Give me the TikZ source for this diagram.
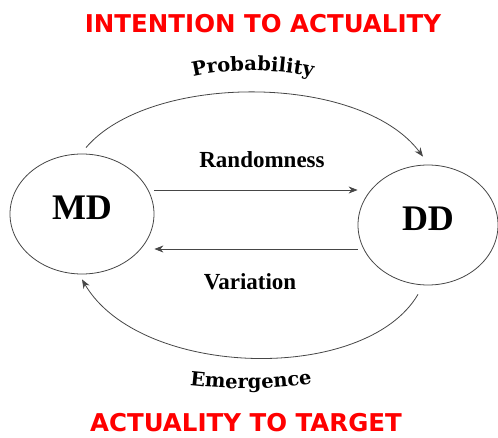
\documentclass[tikz,border=0pt]{standalone}
\usepackage{fontspec}
\usepackage{tikz}
\usetikzlibrary{shapes.geometric, arrows.meta, decorations.text}
\newfontfamily\titlefont{DejaVu Sans}
\newfontfamily\stateserif{Liberation Serif}
\newfontfamily\curvefont{DejaVu Serif}
\definecolor{titlered}{RGB}{255,0,0}
\definecolor{linegray}{RGB}{70,70,70}

\begin{document}
\begin{tikzpicture}[
    x=1pt, y=1pt,
    state/.style={ellipse, draw=linegray, line width=0.8pt, fill=white, inner sep=0pt,
                  minimum width=144pt, minimum height=120pt,
                  font=\stateserif\bfseries\fontsize{36}{36}\selectfont,
                  text height=23pt, text depth=12pt},
    title/.style={font=\titlefont\bfseries\fontsize{24.5}{24.5}\selectfont, text=titlered,
                  inner sep=1pt},
    flowlabel/.style={font=\stateserif\bfseries\fontsize{23}{23}\selectfont},
    arrow/.style={-{Stealth[length=9pt, width=7pt]}, draw=linegray, line width=0.8pt}
]
\useasboundingbox (0,0) rectangle (498,437);

\node[title] (top) at (263,413) {INTENTION TO ACTUALITY};
\node[title] (bottom) at (246,14) {ACTUALITY TO TARGET};

\node[state] (md) at (82,223) {MD};
\node[state, minimum width=140pt] (dd) at (428,212) {DD};

% straight flows
\draw[arrow] ([yshift=24pt]md.east) -- ([yshift=35pt]dd.west);
\draw[arrow] ([yshift=-24pt]dd.west) -- ([yshift=-35pt]md.east);
\node[flowlabel] (rand) at (262,277) {Randomness};
\node[flowlabel] (var) at (250,155) {Variation};

% outer arcs
\draw[arrow] ([shift={(4pt,6pt)}]md.north) .. controls +(64,75) and +(-63,84) .. ([shift={(-5pt,8pt)}]dd.north);
\draw[arrow] ([shift={(-10pt,-9pt)}]dd.south) .. controls +(-53,-90) and +(58,-99) .. ([yshift=-5pt]md.south);

% curved labels
\path[decorate, decoration={text along path, text align=center,
    text={|\curvefont\bfseries\fontsize{19.5}{19.5}\selectfont|Probability}}]
    (188,359) .. controls (228,369) and (276,369) .. (318,359);
\path[decorate, decoration={text along path, text align=center,
    text={|\curvefont\bfseries\fontsize{19.5}{19.5}\selectfont|Emergence}}]
    (186,52) .. controls (228,47) and (274,47) .. (316,54);
\end{tikzpicture}
\end{document}
